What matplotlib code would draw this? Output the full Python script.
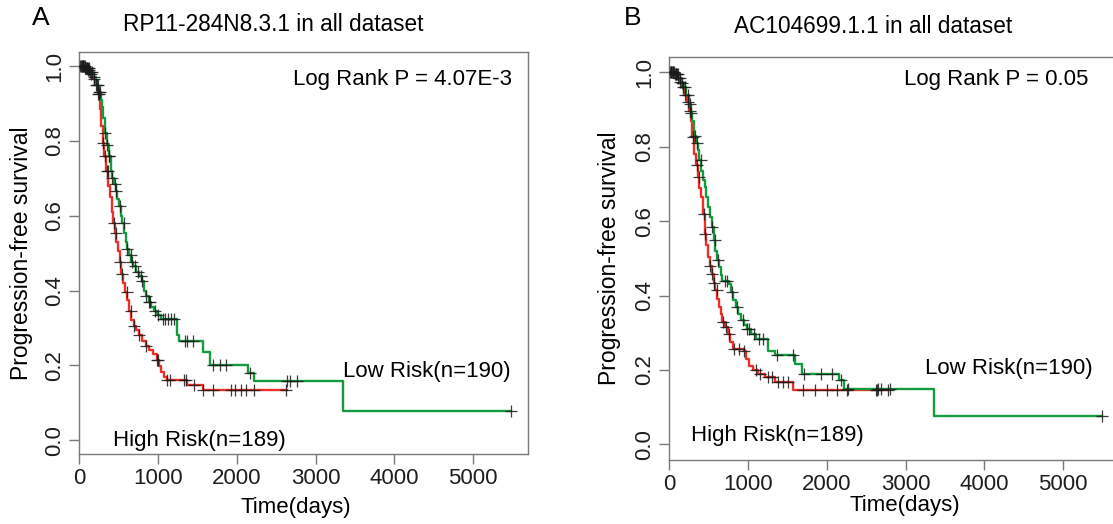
import numpy as np
import matplotlib
matplotlib.use("Agg")
import matplotlib.pyplot as plt

plt.rcParams["font.family"] = ["Liberation Sans", "DejaVu Sans"]

# ---- Panel A : RP11-284N8.3.1 ----
a_high_t = [0, 60, 100, 140, 170, 200, 230, 255, 275, 295, 315, 340, 365, 390, 410,
            430, 450, 470, 490, 510, 530, 555, 580, 605, 630, 660, 690, 720, 760, 800,
            840, 880, 940, 980, 1010, 1040, 1070, 1110, 1370, 1570]
a_high_s = [1.0, 0.995, 0.99, 0.98, 0.965, 0.95, 0.925, 0.885, 0.84, 0.795, 0.76, 0.72,
            0.68, 0.65, 0.61, 0.58, 0.555, 0.53, 0.505, 0.475, 0.445, 0.42, 0.395, 0.375,
            0.345, 0.32, 0.305, 0.295, 0.28, 0.265, 0.252, 0.242, 0.23, 0.215, 0.197,
            0.183, 0.17, 0.161, 0.148, 0.135]
a_high_end = 2630
a_high_cens = [20, 35, 50, 65, 80, 95, 110, 125, 150, 180, 210, 240, 250, 300, 320, 350,
               360, 440, 460, 520, 540, 600, 650, 690, 760, 850, 990, 1000, 1110, 1150,
               1330, 1350, 1460, 1570, 1700, 1920, 1980, 2050, 2110, 2220, 2620]

a_low_t = [0, 80, 130, 170, 210, 240, 270, 290, 305, 320, 345, 370, 395, 414, 440, 460,
           480, 500, 525, 545, 565, 590, 610, 630, 655, 680, 720, 760, 790, 825, 850,
           880, 915, 950, 990, 1030, 1240, 1265, 1570, 1660, 2140, 2220, 3350]
a_low_s = [1.0, 0.995, 0.985, 0.97, 0.95, 0.93, 0.91, 0.89, 0.86, 0.82, 0.79, 0.76, 0.72,
           0.70, 0.685, 0.665, 0.645, 0.625, 0.60, 0.58, 0.555, 0.53, 0.51, 0.495, 0.475,
           0.465, 0.45, 0.44, 0.425, 0.40, 0.385, 0.37, 0.355, 0.345, 0.335, 0.325, 0.28,
           0.265, 0.235, 0.202, 0.18, 0.159, 0.078]
a_low_end = 5478
a_low_cens = [10, 30, 45, 60, 75, 90, 105, 120, 140, 160, 190, 220, 235, 250, 260, 330,
              350, 375, 380, 420, 450, 470, 520, 560, 610, 650, 670, 700, 740, 780, 800,
              850, 880, 900, 960, 1000, 1060, 1090, 1120, 1160, 1200, 1340, 1370, 1440,
              1700, 1790, 1860, 2170, 2640, 2680, 2760, 5478]

# ---- Panel B : AC104699.1.1 ----
b_high_t = [0, 60, 100, 130, 157, 190, 224, 250, 269, 291, 314, 335, 359, 380, 404, 426,
            448, 470, 493, 515, 538, 560, 583, 605, 628, 650, 673, 700, 740, 770, 807,
            942, 975, 1009, 1060, 1121, 1211, 1345, 1570]
b_high_s = [1.0, 0.995, 0.985, 0.975, 0.96, 0.94, 0.92, 0.895, 0.87, 0.825, 0.78, 0.75,
            0.718, 0.69, 0.664, 0.62, 0.566, 0.535, 0.503, 0.48, 0.458, 0.435, 0.414,
            0.39, 0.369, 0.35, 0.329, 0.315, 0.297, 0.275, 0.257, 0.252, 0.23, 0.212,
            0.2, 0.19, 0.181, 0.167, 0.145]
b_high_end = 2780
b_high_cens = [15, 30, 45, 70, 85, 115, 140, 170, 200, 240, 260, 300, 350, 370, 440, 450,
               520, 540, 570, 600, 680, 720, 760, 820, 880, 950, 1100, 1150, 1250, 1300,
               1380, 1440, 1500, 1700, 1850, 2000, 2130, 2250, 2620, 2640, 2780]

b_low_t = [0, 70, 120, 150, 179, 210, 247, 270, 291, 314, 335, 359, 380, 404, 426, 448,
           470, 493, 515, 538, 560, 583, 605, 628, 650, 673, 762, 785, 807, 840, 874,
           910, 942, 985, 1031, 1099, 1256, 1345, 1592, 1682, 2152, 2220, 3363]
b_low_s = [1.0, 0.995, 0.985, 0.97, 0.96, 0.94, 0.915, 0.89, 0.87, 0.83, 0.81, 0.79,
           0.765, 0.736, 0.71, 0.691, 0.665, 0.637, 0.61, 0.584, 0.55, 0.521, 0.495,
           0.476, 0.455, 0.44, 0.432, 0.41, 0.387, 0.37, 0.351, 0.335, 0.32, 0.31, 0.297,
           0.284, 0.252, 0.239, 0.217, 0.19, 0.172, 0.15, 0.075]
b_low_end = 5493
b_low_cens = [10, 25, 40, 55, 80, 95, 110, 135, 165, 195, 230, 260, 280, 320, 350, 400,
              540, 580, 620, 700, 730, 800, 860, 930, 990, 1010, 1076, 1140, 1188, 1368,
              1570, 1704, 1928, 2063, 2175, 2264, 2646, 2690, 2802, 5493]

RED = "#ec2f27"
GREEN = "#169a3e"
GREY = "#7a7a7a"
FS = 16


def km(ax, t, s, end, cens, color):
    tt = list(t) + [end]
    ss = list(s) + [s[-1]]
    ax.step(tt, ss, where="post", color=color, lw=1.7, zorder=2)
    idx = np.searchsorted(t, cens, side="right") - 1
    cy = np.array(s)[idx]
    ax.plot(cens, cy, ls="none", marker="+", ms=9, mew=0.9,
            color="#1a1a1a", alpha=0.85, zorder=3)


def style(ax, ylim):
    ax.set_xlim(-5, 5700)
    ax.set_ylim(*ylim)
    ax.set_xticks([0, 1000, 2000, 3000, 4000, 5000])
    ax.set_yticks([0.0, 0.2, 0.4, 0.6, 0.8, 1.0])
    ax.set_yticklabels(["0.0", "0.2", "0.4", "0.6", "0.8", "1.0"],
                       rotation=90, va="center")
    for sp in ax.spines.values():
        sp.set_color(GREY)
        sp.set_linewidth(1.0)
    ax.tick_params(colors=GREY, labelcolor="#1e1e1e", labelsize=FS,
                   length=7, width=1.0, direction="out")
    ax.tick_params(axis="x", pad=3)
    ax.tick_params(axis="y", pad=3)


fig = plt.figure(figsize=(11.13, 5.24), dpi=100)

axA = fig.add_axes([0.0710, 0.1336, 0.4037, 0.7666])
km(axA, a_high_t, a_high_s, a_high_end, a_high_cens, RED)
km(axA, a_low_t, a_low_s, a_low_end, a_low_cens, GREEN)
style(axA, (-0.037, 1.037))
axA.text(5491, 0.965, "Log Rank P = 4.07E-3", ha="right", va="center", fontsize=FS)
axA.text(5479, 0.184, "Low Risk(n=190)", ha="right", va="center", fontsize=FS)
axA.text(428, 0.0, "High Risk(n=189)", ha="left", va="center", fontsize=FS)
axA.set_xlabel("Time(days)", fontsize=FS)
axA.set_ylabel("Progression-free survival", fontsize=16.5)
axA.xaxis.set_label_coords(0.483, -0.134)
axA.xaxis.label.set_va("center")
axA.yaxis.set_label_coords(-0.127, 0.5)
axA.yaxis.label.set_va("center")

axB = fig.add_axes([0.6011, 0.1221, 0.4037, 0.7697])
km(axB, b_high_t, b_high_s, b_high_end, b_high_cens, RED)
km(axB, b_low_t, b_low_s, b_low_end, b_low_cens, GREEN)
style(axB, (-0.042, 1.042))
axB.text(5320, 0.982, "Log Rank P = 0.05", ha="right", va="center", fontsize=FS)
axB.text(5372, 0.205, "Low Risk(n=190)", ha="right", va="center", fontsize=FS)
axB.text(276, 0.025, "High Risk(n=189)", ha="left", va="center", fontsize=FS)
axB.set_xlabel("Time(days)", fontsize=FS)
axB.set_ylabel("Progression-free survival", fontsize=16.5)
axB.xaxis.set_label_coords(0.524, -0.114)
axB.xaxis.label.set_va("center")
axB.yaxis.set_label_coords(-0.132, 0.5)
axB.yaxis.label.set_va("center")

fig.text(0.0368, 0.9656, "A", fontsize=19, ha="center", va="center")
fig.text(0.568, 0.9656, "B", fontsize=19, ha="center", va="center")
fig.text(0.2453, 0.954, "RP11-284N8.3.1 in all dataset", fontsize=16.3, ha="center", va="center")
fig.text(0.7848, 0.950, "AC104699.1.1 in all dataset", fontsize=16.3, ha="center", va="center")

fig.savefig("out.png", dpi=100)
